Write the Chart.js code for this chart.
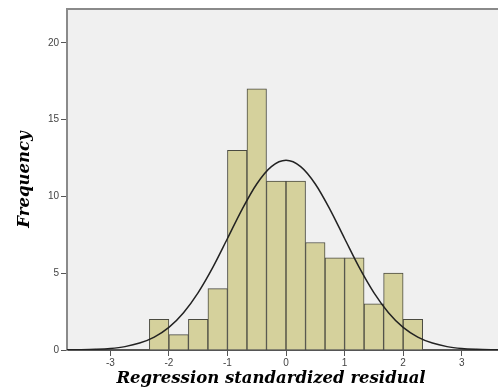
<!DOCTYPE html>
<html>
<head>
<meta charset="utf-8">
<script src="https://cdn.jsdelivr.net/npm/chart.js@4"></script>
<style>
  html, body { margin: 0; padding: 0; background: #fff; }
  #wrap { width: 498px; height: 387px; }
</style>
</head>
<body>
<div id="wrap"><canvas id="myChart" width="498" height="387"></canvas></div>
<script>
// histogram bins (centres, width 1/3)
const binCenters = [-2.1667, -1.8333, -1.5, -1.1667, -0.8333, -0.5, -0.1667, 0.1667, 0.5, 0.8333, 1.1667, 1.5, 1.8333, 2.1667];
const frequencies = [2, 1, 2, 4, 13, 17, 11, 11, 7, 6, 6, 3, 5, 2];

// normal curve
const curveX = [-3.75, -3.5, -3.25, -3, -2.75, -2.5, -2.25, -2, -1.75, -1.5, -1.25, -1, -0.75, -0.5, -0.25, 0,
  0.25, 0.5, 0.75, 1, 1.25, 1.5, 1.75, 2, 2.25, 2.5, 2.75, 3, 3.25, 3.5, 3.75];
const curveY = [0.01, 0.02, 0.045, 0.1, 0.22, 0.45, 0.84, 1.47, 2.43, 3.74, 5.38, 7.26, 9.16, 10.81, 11.94, 12.35,
  11.94, 10.81, 9.16, 7.26, 5.38, 3.74, 2.43, 1.47, 0.84, 0.45, 0.22, 0.1, 0.045, 0.02, 0.01];

const xTicks = [-3, -2, -1, 0, 1, 2, 3];
const yTicks = [0, 5, 10, 15, 20];
const xTitle = "Regression standardized residual";

const titleFont = { family: "DejaVu Serif", size: 16.5, weight: "bold", style: "italic" };
const tickFont = { family: "Liberation Sans", size: 10 };

// grey plot background, top frame line, x title
const plotFrame = {
  id: "plotFrame",
  beforeDraw(chart) {
    const { ctx, chartArea: a } = chart;
    ctx.save();
    ctx.fillStyle = "#f0f0f0";
    ctx.fillRect(a.left, a.top, a.right - a.left, a.bottom - a.top);
    ctx.strokeStyle = "#8a8a8a";
    ctx.lineWidth = 2;
    ctx.beginPath();
    ctx.moveTo(a.left, a.top);
    ctx.lineTo(a.right, a.top);
    ctx.stroke();
    ctx.restore();
  },
  afterDraw(chart) {
    const { ctx } = chart;
    ctx.save();
    ctx.font = "italic bold 16.5px 'DejaVu Serif'";
    ctx.fillStyle = "#000";
    ctx.textAlign = "center";
    ctx.textBaseline = "alphabetic";
    ctx.fillText(xTitle, 271, 383);
    ctx.restore();
  },
};

const ctx = document.getElementById("myChart").getContext("2d");

new Chart(ctx, {
  type: "bar",
  data: {
    datasets: [
      {
        type: "line",
        data: curveX.map((x, i) => ({ x: x, y: curveY[i] })),
        borderColor: "#222",
        borderWidth: 1.5,
        pointRadius: 0,
        cubicInterpolationMode: "monotone",
        fill: false,
        order: 0,
      },
      {
        data: binCenters.map((x, i) => ({ x: x, y: frequencies[i] })),
        backgroundColor: "#d5d19c",
        borderColor: "#4a4a40",
        borderWidth: 1,
        barPercentage: 1,
        categoryPercentage: 1,
        order: 1,
      },
    ],
  },
  options: {
    responsive: false,
    animation: false,
    layout: { padding: { top: 9, right: 0, left: 0, bottom: 0 } },
    plugins: {
      legend: { display: false },
      tooltip: { enabled: false },
    },
    scales: {
      x: {
        type: "linear",
        min: -3.74,
        max: 3.62,
        offset: false,
        afterBuildTicks: (s) => { s.ticks = xTicks.map((v) => ({ value: v })); },
        afterFit: (s) => { s.height = 37; },
        grid: { display: true, offset: false, drawOnChartArea: false, drawTicks: true, tickLength: 6, color: "#555" },
        border: { display: true, color: "#555", width: 2 },
        ticks: { font: tickFont, color: "#444", padding: 1, maxRotation: 0 },
        title: { display: false },
      },
      y: {
        min: 0,
        max: 22.2,
        afterBuildTicks: (s) => { s.ticks = yTicks.map((v) => ({ value: v })); },
        afterFit: (s) => { s.width = 67; },
        grid: { display: true, drawOnChartArea: false, drawTicks: true, tickLength: 6, color: "#555" },
        border: { display: true, color: "#8a8a8a", width: 2 },
        ticks: { font: tickFont, color: "#444", padding: 2 },
        title: { display: true, text: "Frequency", font: titleFont, color: "#000", padding: { top: 15, bottom: 0 } },
      },
    },
  },
  plugins: [plotFrame],
});
</script>
</body>
</html>
